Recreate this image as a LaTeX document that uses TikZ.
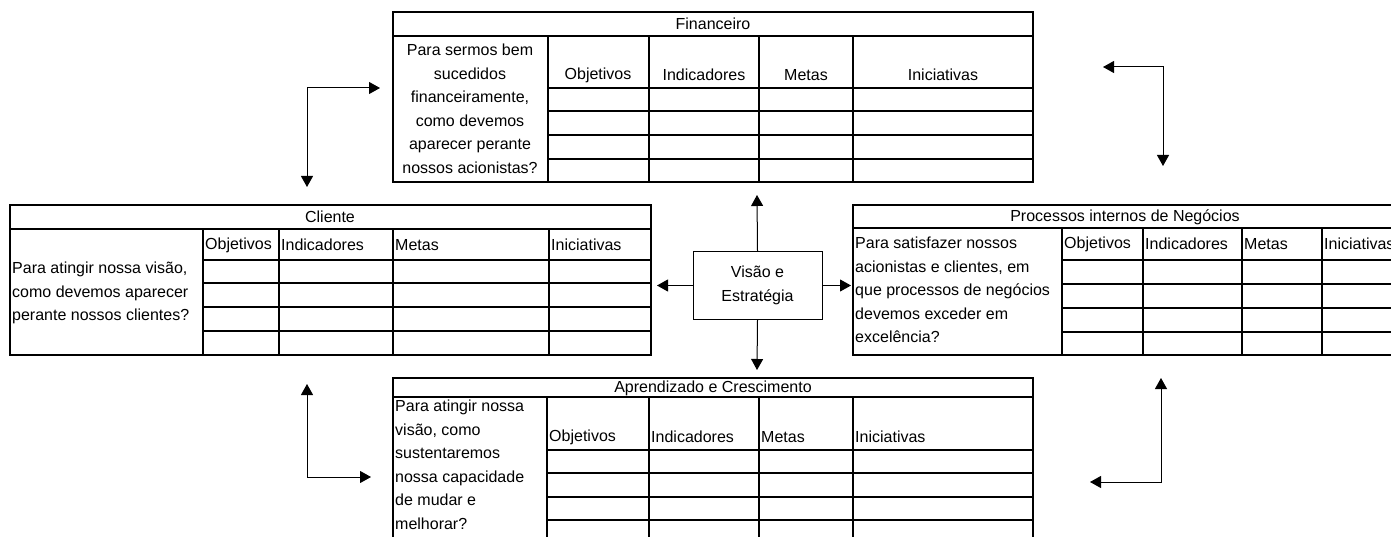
\documentclass[tikz,border=0pt]{standalone}
\usepackage{fontspec}
\setmainfont{Liberation Sans}
\usetikzlibrary{arrows.meta}
\tikzset{
  tab/.style={line width=1.6pt},
  txt/.style={inner sep=0pt, font=\fontsize{16}{23.5}\selectfont},
  arr/.style={line width=1pt, -{Triangle[length=11pt,width=12pt]}},
  arrs/.style={line width=1pt, {Triangle[length=11pt,width=12pt]}-{Triangle[length=11pt,width=12pt]}},
}
\begin{document}
\begin{tikzpicture}[x=1pt,y=-1pt]
      \useasboundingbox (0,0) rectangle (1391,537);
      \clip (0,0) rectangle (1391,537);
      % Financeiro
      \draw[tab] (393,12) rectangle (1033,182);
      \draw[tab] (393,36) -- (1033,36);
      \foreach \y in {88,111,135,159} \draw[tab] (548,\y) -- (1033,\y);
      \foreach \x in {548,649,759,853} \draw[tab] (\x,36) -- (\x,182);
      \draw
        (713,24) node[txt] (fin){Financeiro}
        (470,109) node[txt,align=center] (finq){Para sermos bem\\sucedidos\\financeiramente,\\como devemos\\aparecer perante\\nossos acionistas?}
        (598,75) node[txt] (fin1){Objetivos}
        (704,75) node[txt] (fin2){Indicadores}
        (806,75) node[txt] (fin3){Metas}
        (943,75) node[txt] (fin4){Iniciativas};
      % Cliente
      \draw[tab] (10,205) rectangle (651,355);
      \draw[tab] (10,229) -- (651,229);
      \foreach \y in {260,283,307,331} \draw[tab] (203,\y) -- (651,\y);
      \foreach \x in {203,279,393,549} \draw[tab] (\x,229) -- (\x,355);
      \draw
        (330,217) node[txt] (cli){Cliente}
        (12,293) node[txt,anchor=west,align=left] (cliq){Para atingir nossa visão,\\como devemos aparecer\\perante nossos clientes?}
        (205,245) node[txt,anchor=west] (cli1){Objetivos}
        (281,245) node[txt,anchor=west] (cli2){Indicadores}
        (395,245) node[txt,anchor=west] (cli3){Metas}
        (551,245) node[txt,anchor=west] (cli4){Iniciativas};
      % Processos internos
      \draw[tab] (853,205) rectangle (1397,355);
      \draw[tab] (853,228) -- (1397,228);
      \foreach \y in {260,284,308,332} \draw[tab] (1062,\y) -- (1397,\y);
      \foreach \x in {1062,1143,1242,1322} \draw[tab] (\x,228) -- (\x,355);
      \draw
        (1125,217) node[txt] (proc){Processos internos de Negócios}
        (855,290) node[txt,anchor=west,align=left] (procq){Para satisfazer nossos\\acionistas e clientes, em\\que processos de negócios\\devemos exceder em\\excelência?}
        (1064,244) node[txt,anchor=west] (proc1){Objetivos}
        (1145,244) node[txt,anchor=west] (proc2){Indicadores}
        (1244,244) node[txt,anchor=west] (proc3){Metas}
        (1324,244) node[txt,anchor=west] (proc4){Iniciativas};
      % Aprendizado
      \draw[tab] (393,378) rectangle (1033,544);
      \draw[tab] (393,397) -- (1033,397);
      \foreach \y in {450,473,497,520} \draw[tab] (547,\y) -- (1033,\y);
      \foreach \x in {547,649,759,853} \draw[tab] (\x,397) -- (\x,544);
      \draw
        (713,388) node[txt] (apr){Aprendizado e Crescimento}
        (395,465) node[txt,anchor=west,align=left] (aprq){Para atingir nossa\\visão, como\\sustentaremos\\nossa capacidade\\de mudar e\\melhorar?}
        (549,437) node[txt,anchor=west] (apr1){Objetivos}
        (651,437) node[txt,anchor=west] (apr2){Indicadores}
        (761,437) node[txt,anchor=west] (apr3){Metas}
        (855,437) node[txt,anchor=west] (apr4){Iniciativas};
      % Visao e Estrategia
      \node[txt,draw,line width=1pt,minimum width=129pt,minimum height=67pt,align=center] (visao) at (757.5,285.5) {Visão e\\Estratégia};
      \coordinate (up) at (757,195);
      \coordinate (down) at (757,370);
      \coordinate (left) at (657,285.5);
      \coordinate (right) at (851,285.5);
      \begin{scope}[arr]
        \draw (visao.north) to (up);
        \draw (visao.south) to (down);
        \draw (visao.west) to (left);
        \draw (visao.east) to (right);
      \end{scope}
      % corner arrows
      \coordinate (tl1) at (307,187);
      \coordinate (tl) at (307,88);
      \coordinate (tl2) at (380,88);
      \coordinate (tr1) at (1103,67);
      \coordinate (tr) at (1163,67);
      \coordinate (tr2) at (1163,166);
      \coordinate (bl1) at (307,384);
      \coordinate (bl) at (307,477);
      \coordinate (bl2) at (371,477);
      \coordinate (br1) at (1090,482);
      \coordinate (br) at (1161,482);
      \coordinate (br2) at (1161,378);
      \begin{scope}[arrs]
        \draw (tl1) -- (tl) -- (tl2);
        \draw (tr1) -- (tr) -- (tr2);
        \draw (bl1) -- (bl) -- (bl2);
        \draw (br1) -- (br) -- (br2);
      \end{scope}
    \end{tikzpicture}
\end{document}
